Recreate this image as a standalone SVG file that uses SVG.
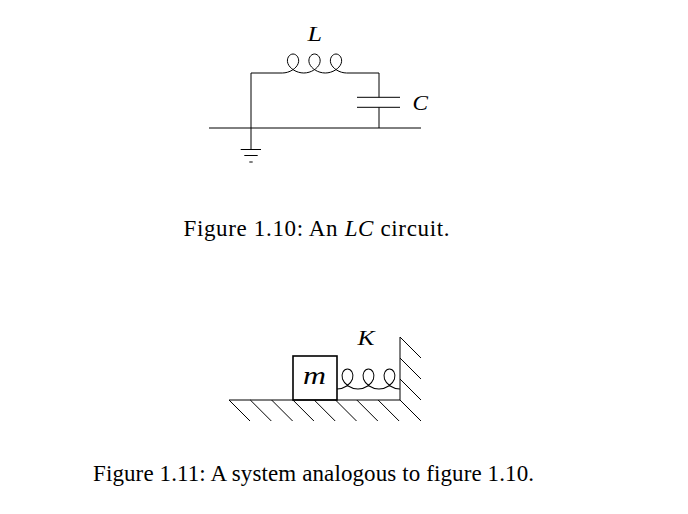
<svg xmlns="http://www.w3.org/2000/svg" width="688" height="514" viewBox="0 0 688 514">
<style>
.ln{fill:none;stroke:#000;stroke-width:1;stroke-linecap:butt}
.lbl{font-family:"Liberation Serif","Times New Roman",serif;font-style:italic;fill:#000}
.cap{font-family:"Liberation Serif","Times New Roman",serif;font-size:23px;fill:#000}
.it{font-style:italic}
</style>
<defs>
<path id="coil" d="M0,0 c7.29,0 14.08,-4.53 15.87,-9.5 c1.79,-4.97 -1.420,-9.5 -5.13,-9.5 c-3.71,0 -6.91,4.53 -5.13,9.5 c1.79,4.97 8.58,9.5 15.87,9.5 c7.29,0 14.08,-4.53 15.87,-9.5 c1.79,-4.97 -1.42,-9.5 -5.13,-9.5 c-3.71,0 -6.91,4.53 -5.13,9.5 c1.79,4.97 8.58,9.5 15.87,9.5 c7.29,0 14.08,-4.53 15.87,-9.5 c1.79,-4.97 -1.42,-9.5 -5.13,-9.5 c-3.71,0 -6.91,4.53 -5.13,9.5 c1.79,4.97 8.58,9.5 15.87,9.5"/>
</defs>
<rect width="688" height="514" fill="#fff"/>

<!-- Figure 1.10 -->
<g id="inductor">
<use href="#coil" class="ln" transform="translate(282.3,73)"/>
<text class="lbl" x="307.5" y="41" font-size="21" textLength="14.5" lengthAdjust="spacingAndGlyphs">L</text>
</g>
<g id="capacitor">
<path class="ln" d="M357,97.3 H400 M357,107.3 H400"/>
<text class="lbl" x="412.5" y="110" font-size="22" textLength="15.5" lengthAdjust="spacingAndGlyphs">C</text>
</g>
<g id="ground">
<path class="ln" d="M240.7,149.5 H261 M244.3,155.5 H257.7 M249.3,162 H252.7"/>
</g>
<g id="connectors">
<path class="ln" d="M251,149.5 V73 H282.3 M346.8,73 H379 V97.3 M379,107.3 V128 M209,128 H421"/>
</g>
<text class="cap" x="183.5" y="236" textLength="266" lengthAdjust="spacing">Figure 1.10: An <tspan class="it">LC</tspan> circuit.</text>

<!-- Figure 1.11 -->
<g id="floor">
<path class="ln" d="M229,400 H400 M229,400 l21,21 M250.3,400 l21,21 M271.6,400 l21,21 M292.9,400 l21,21 M314.2,400 l21,21 M335.5,400 l21,21 M356.8,400 l21,21 M378.1,400 l21,21 M400,400 l21,21"/>
</g>
<g id="wall">
<path class="ln" d="M400,337 V400 M400,337 l21,21 M400,358 l21,21 M400,379 l21,21"/>
</g>
<g id="mass">
<rect x="293" y="356" width="44" height="44" fill="none" stroke="#000" stroke-width="1.6"/>
<text class="lbl" x="303" y="384" font-size="26" textLength="23" lengthAdjust="spacingAndGlyphs">m</text>
</g>
<g id="spring">
<use href="#coil" class="ln" transform="translate(337,389) scale(0.977,1.05)"/>
<text class="lbl" x="357.5" y="344.5" font-size="20" textLength="17" lengthAdjust="spacingAndGlyphs">K</text>
</g>
<text class="cap" x="93" y="481" textLength="441" lengthAdjust="spacing">Figure 1.11: A system analogous to figure 1.10.</text>
</svg>
